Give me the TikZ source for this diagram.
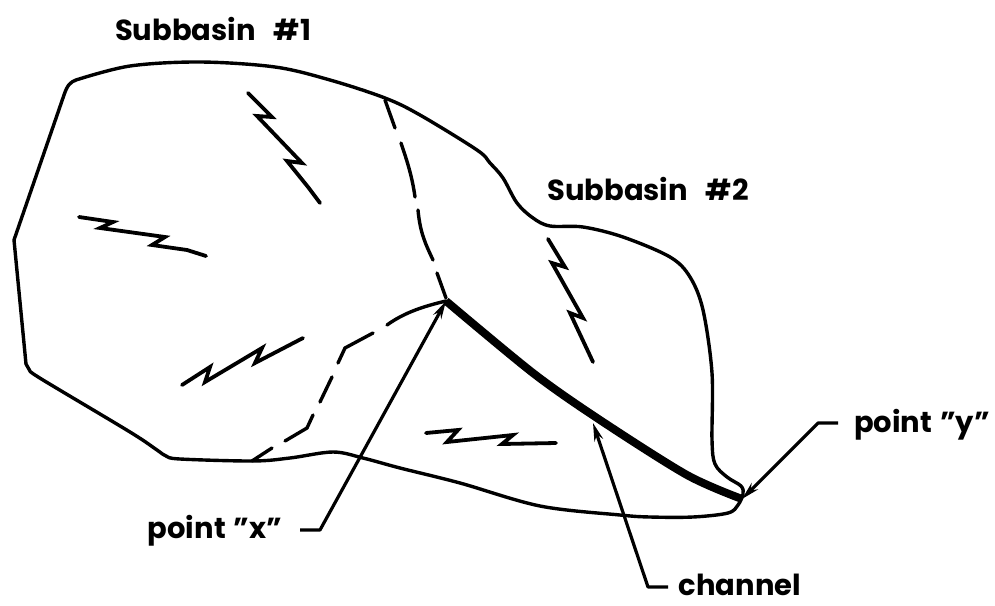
\documentclass[tikz,border=0pt]{standalone}
\usepackage{fontspec}
\setsansfont{Poppins}[Ligatures=NoCommon]
\usetikzlibrary{arrows.meta}
\tikzset{
  outline/.style={line width=3.4pt,line join=round,line cap=round},
  divide/.style={line width=3.4pt,line join=round,line cap=round},
  flash/.style={line width=3.8pt,line join=miter,line cap=round},
  channelline/.style={line width=8pt,line join=round,line cap=butt},
  leader/.style={line width=3.2pt,line join=round,-{Stealth[length=18pt,width=9pt]}},
  lbl/.style={inner sep=0pt,font=\sffamily\bfseries\fontsize{29}{31}\selectfont,text=black}
}
\begin{document}
\begin{tikzpicture}[x=1pt,y=-1pt]
\useasboundingbox (0,0) rectangle (995,605);
\fill[white] (0,0) rectangle (995,605);
% labels
\node[lbl] (sb1) at (213,29) {Subbasin\hspace{18pt}\#1};
\node[lbl] (sb2) at (648,189) {Subbasin\hspace{18pt}\#2};
\node[lbl] (lx) at (215,531) {point\hspace{8pt}\symbol{34}x\symbol{34}};
\node[lbl] (ly) at (922,425) {point\hspace{8pt}\symbol{34}y\symbol{34}};
\node[lbl] (lc) at (740,585) {channel};
% key points
\coordinate (ptx) at (446,301);
\coordinate (pty) at (742,499);
\coordinate (chn) at (593,423);
\coordinate (xa) at (300,530);
\coordinate (xb) at (320,530);
\coordinate (ya) at (838,423);
\coordinate (yb) at (818,423);
\coordinate (ca) at (668,587);
\coordinate (cb) at (648,587);
% outline
\draw[outline] (14,240) -- (64,95) .. controls (67,86) and (70,82) .. (76,80)
  plot[smooth,tension=0.55] coordinates {(76,80) (130,66) (200,62) (275,67) (330,80) (385,98) (420,115) (477,150) (490,163) (503,178) (517,203) (533,218) (550,226) (583,227) (623,237) (670,257) (690,277) (703,310) (712,373) (712,440) (715,464) (727,477) (741,486) (743,494) (738,505) (728,513) (693,517) (650,517) (620,515) (540,506) (460,483) (400,468) (363,458) (333,452) (290,458) (253,461) (180,459) (166,456) (157,450) (130,432) (43,380) (30,371)}
  -- (26,364) -- (14,240);
% dashed divides
\draw[divide] (385,100) -- (395,128);
\draw[divide] (401,143) .. controls (406,158) and (412,175) .. (415,197);
\draw[divide] (418,210) .. controls (420,232) and (425,243) .. (433,260);
\draw[divide] (437,273) -- (446,298);
\draw[divide] (ptx) .. controls (425,306) and (405,312) .. (387,325);
\draw[divide] (373,333) -- (345,348) -- (338,363);
\draw[divide] (332,377) -- (320,402);
\draw[divide] (313,415) -- (307,428) -- (285,441);
\draw[divide] (272,448) -- (252,461);
% lightning flows
\draw[flash] (248,93) -- (272,117) -- (257,116) -- (302,163) -- (287,161) -- (308,187) -- (320,203);
\draw[flash] (79,217) -- (113,222) -- (100,228) -- (165,237) -- (152,245) -- (187,250) -- (206,256);
\draw[flash] (182,385) -- (210,367) -- (205,382) -- (262,348) -- (255,363) -- (303,338);
\draw[flash] (426,433) -- (458,430) -- (447,442) -- (513,435) -- (502,444) -- (556,443);
\draw[flash] (548,239) -- (565,267) -- (552,263) -- (583,318) -- (570,313) -- (593,362);
% channel
\draw[channelline] plot[smooth,tension=0.5] coordinates {(ptx) (533,373) (600,420) (687,475) (pty)};
% leaders
\draw[leader] (xa) -- (xb) -- (ptx);
\draw[leader] (ca) -- (cb) -- (chn);
\draw[leader] (ya) -- (yb) -- (pty);
\end{tikzpicture}
\end{document}
